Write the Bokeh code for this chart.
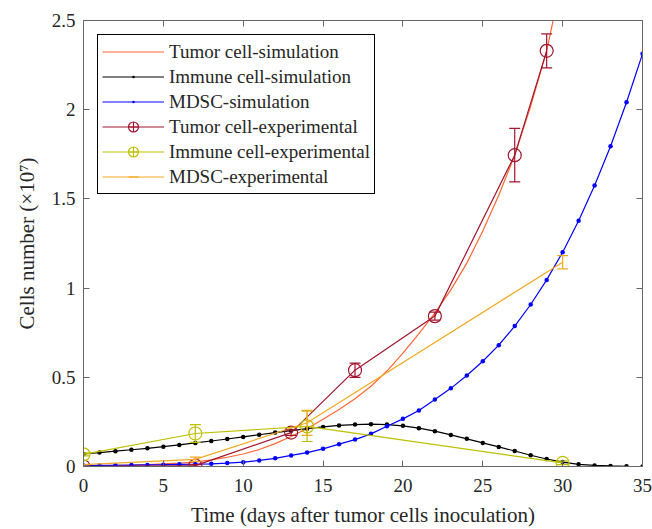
import numpy as np
from bokeh.plotting import figure
from bokeh.models import (ColumnDataSource, Whisker, TeeHead, LinearAxis, FixedTicker,
                          Legend, LegendItem, Range1d, NumeralTickFormatter)
from bokeh.embed import file_html
from bokeh.resources import INLINE

# ---------------- data ----------------
days = list(range(36))
tumor_sim = [0.002, 0.004, 0.006, 0.008, 0.011, 0.015, 0.019, 0.025, 0.037, 0.052,
             0.070, 0.095, 0.128, 0.168, 0.213, 0.265, 0.320, 0.380, 0.450, 0.535,
             0.635, 0.745, 0.860, 0.990, 1.140, 1.320, 1.520, 1.745, 2.020, 2.330,
             2.750, 3.200, 3.700, 4.250, 4.850, 5.500]
immune_sim = [0.070, 0.078, 0.086, 0.094, 0.102, 0.111, 0.121, 0.132, 0.143, 0.154,
              0.166, 0.178, 0.190, 0.201, 0.212, 0.222, 0.230, 0.235, 0.237, 0.235,
              0.228, 0.215, 0.198, 0.177, 0.155, 0.132, 0.110, 0.087, 0.063, 0.042,
              0.025, 0.012, 0.006, 0.003, 0.001, 0.000]
mdsc_sim = [0.005, 0.006, 0.007, 0.008, 0.009, 0.010, 0.012, 0.013, 0.015, 0.019,
            0.024, 0.034, 0.046, 0.062, 0.078, 0.099, 0.125, 0.151, 0.183, 0.226,
            0.267, 0.314, 0.376, 0.438, 0.510, 0.590, 0.680, 0.787, 0.908, 1.046,
            1.201, 1.377, 1.575, 1.795, 2.042, 2.313]

tumor_exp_days = [0, 7, 13, 17, 22, 27, 29]
tumor_exp = [0.0, 0.005, 0.19, 0.54, 0.843, 1.745, 2.33]
tumor_exp_err = [0.0, 0.005, 0.015, 0.04, 0.022, 0.15, 0.095]

immune_exp_days = [0, 7, 14, 30]
immune_exp = [0.068, 0.185, 0.225, 0.02]
immune_exp_err = [0.008, 0.05, 0.085, 0.01]

mdsc_exp_days = [0, 7, 14, 30]
mdsc_exp = [0.01, 0.04, 0.245, 1.145]
mdsc_exp_err = [0.0, 0.012, 0.07, 0.037]

x_ticks = [0, 5, 10, 15, 20, 25, 30, 35]
y_ticks = [0, 0.5, 1, 1.5, 2, 2.5]

# ---------------- styles ----------------
C_TSIM = "#ff6633"
C_ISIM = "#000000"
C_MSIM = "#0000ff"
C_TEXP = "#a2142f"
C_IEXP = "#bfbf00"
C_MEXP = "#f2a922"
AX = "#666666"
TXT = "#262626"
FONT = "Liberation Serif"

p = figure(width=652, height=529, x_range=Range1d(0, 35), y_range=Range1d(0, 2.5),
           output_backend="svg", toolbar_location=None,
           min_border_left=83, min_border_right=10, min_border_top=20, min_border_bottom=63)
p.xgrid.visible = False
p.ygrid.visible = False
p.outline_line_color = AX
p.outline_line_width = 1
p.background_fill_color = "white"
p.border_fill_color = "white"

for ax, ticks in ((p.xaxis[0], x_ticks), (p.yaxis[0], y_ticks)):
    ax.ticker = FixedTicker(ticks=ticks)
    ax.major_tick_in = 6
    ax.major_tick_out = 0
    ax.minor_tick_line_color = None
    ax.axis_line_color = AX
    ax.major_tick_line_color = AX
    ax.major_label_text_font = FONT
    ax.major_label_text_font_size = "19px"
    ax.major_label_text_color = TXT
    ax.axis_label_text_font = FONT
    ax.axis_label_text_font_size = "21px"
    ax.axis_label_text_font_style = "normal"
    ax.axis_label_text_color = TXT
p.xaxis.formatter = NumeralTickFormatter(format="0")
p.yaxis.formatter = NumeralTickFormatter(format="0.[0]")
p.xaxis.axis_label = "Time (days after tumor cells inoculation)"
p.yaxis.axis_label = "Cells number (×10⁷)"
p.xaxis.major_label_standoff = 12
p.yaxis.major_label_standoff = 8
p.xaxis.axis_label_standoff = 8
p.yaxis.axis_label_standoff = 10

for loc, ticks in (("above", x_ticks), ("right", y_ticks)):
    a = LinearAxis(ticker=FixedTicker(ticks=ticks), major_label_text_font_size="1px",
                   major_label_text_color=None, major_tick_in=6, major_tick_out=0,
                   minor_tick_line_color=None, axis_line_color=AX,
                   major_tick_line_color=AX, major_label_standoff=0)
    p.add_layout(a, loc)

LW = 1.2

# simulations
r_tsim = p.line(days, tumor_sim, line_color=C_TSIM, line_width=LW)
r_isim_l = p.line(days, immune_sim, line_color=C_ISIM, line_width=LW)
r_isim_d = p.scatter(days, immune_sim, marker="dot", size=18, line_color=C_ISIM, fill_color=C_ISIM)
r_msim_l = p.line(days, mdsc_sim, line_color=C_MSIM, line_width=LW)
r_msim_d = p.scatter(days, mdsc_sim, marker="dot", size=18, line_color=C_MSIM, fill_color=C_MSIM)

def exp_series(xs, ys, errs, color, marker):
    src = ColumnDataSource(dict(x=xs, y=ys,
                                upper=[y + e for y, e in zip(ys, errs)],
                                lower=[y - e for y, e in zip(ys, errs)]))
    w = Whisker(source=src, base="x", upper="upper", lower="lower",
                line_color=color, line_width=LW, level="glyph",
                upper_head=TeeHead(size=11, line_color=color, line_width=LW),
                lower_head=TeeHead(size=11, line_color=color, line_width=LW))
    p.add_layout(w)
    rl = p.line("x", "y", source=src, line_color=color, line_width=LW)
    if marker:
        p.scatter("x", "y", source=src, marker="circle", size=13,
                  line_color=color, fill_color=None, line_width=LW)
    # legend proxy (no data drawn)
    proxy = p.scatter(x=[np.nan], y=[np.nan],
                      marker="circle_cross" if marker else "dash",
                      angle=0 if marker else np.pi / 2,
                      size=13, line_color=color, fill_color=None, line_width=LW)
    return rl, proxy

r_texp_l, r_texp_p = exp_series(tumor_exp_days, tumor_exp, tumor_exp_err, C_TEXP, True)
r_iexp_l, r_iexp_p = exp_series(immune_exp_days, immune_exp, immune_exp_err, C_IEXP, True)
r_mexp_l, r_mexp_p = exp_series(mdsc_exp_days, mdsc_exp, mdsc_exp_err, C_MEXP, False)

legend = Legend(items=[
    LegendItem(label="Tumor cell-simulation", renderers=[r_tsim]),
    LegendItem(label="Immune cell-simulation", renderers=[r_isim_l, r_isim_d]),
    LegendItem(label="MDSC-simulation", renderers=[r_msim_l, r_msim_d]),
    LegendItem(label="Tumor cell-experimental", renderers=[r_texp_l, r_texp_p]),
    LegendItem(label="Immune cell-experimental", renderers=[r_iexp_l, r_iexp_p]),
    LegendItem(label="MDSC-experimental", renderers=[r_mexp_l, r_mexp_p]),
], location="top_left", margin=14, padding=4, spacing=0, glyph_width=62,
    glyph_height=25, label_height=25, label_standoff=5,
    label_text_font=FONT, label_text_font_size="19px", label_text_color=TXT,
    border_line_color="black", border_line_width=1.6, border_line_alpha=1.0,
    background_fill_color="white", background_fill_alpha=1.0)
p.add_layout(legend)

open("out.html", "w").write(file_html(p, INLINE))
